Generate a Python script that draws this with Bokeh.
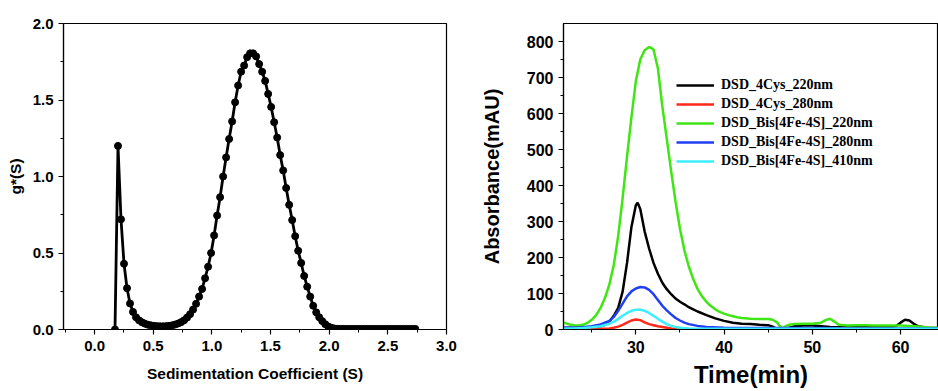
import math
from bokeh.plotting import figure
from bokeh.layouts import row
from bokeh.models import FixedTicker, Legend, LegendItem, Title, Range1d, PrintfTickFormatter
from bokeh.embed import file_html
from bokeh.resources import INLINE

# ---------------- Left panel data: g*(s) distribution ----------------
s_start = 0.174
s_step = 0.0256
g_values = [0.0, 1.20, 0.72, 0.43, 0.27, 0.17, 0.115, 0.08, 0.06, 0.047,
            0.038, 0.031, 0.027, 0.024, 0.022, 0.021, 0.021, 0.022, 0.024, 0.027,
            0.032, 0.039, 0.048, 0.06, 0.078, 0.10, 0.13, 0.168, 0.215, 0.265,
            0.335, 0.41, 0.50, 0.615, 0.745, 0.865, 1.0, 1.125, 1.245, 1.36,
            1.485, 1.595, 1.685, 1.725, 1.78, 1.805, 1.805, 1.785, 1.735, 1.685,
            1.625, 1.54, 1.455, 1.355, 1.255, 1.14, 1.04, 0.925, 0.815, 0.715,
            0.61, 0.515, 0.435, 0.35, 0.28, 0.215, 0.155, 0.112, 0.08, 0.055,
            0.035, 0.02, 0.012, 0.007, 0.005, 0.004, 0.004, 0.004, 0.004, 0.004,
            0.004, 0.004, 0.004, 0.004, 0.004, 0.004, 0.004, 0.004, 0.004, 0.004,
            0.004, 0.004, 0.004, 0.004, 0.004, 0.004, 0.004, 0.004, 0.004, 0.004,
            0.004]
s_values = [round(s_start + i * s_step, 4) for i in range(len(g_values))]
left_xticks = [0.0, 0.5, 1.0, 1.5, 2.0, 2.5, 3.0]
left_xminor = [-0.25, 0.25, 0.75, 1.25, 1.75, 2.25, 2.75]
left_yticks = [0.0, 0.5, 1.0, 1.5, 2.0]
left_yminor = [0.25, 0.75, 1.25, 1.75]

# ---------------- Right panel data: chromatograms ----------------
t_black = [21.8, 23, 24, 25, 26, 26.5, 27, 27.5, 28, 28.5, 29, 29.5, 30, 30.2, 30.5, 31, 31.5, 32, 32.5, 33,
           33.5, 34, 34.5, 35, 35.5, 36, 36.5, 37, 38, 39, 40, 41, 42, 43, 44, 45, 45.5, 46, 46.5, 47,
           47.5, 48, 49, 50, 51, 52, 54, 56, 58, 59, 59.5, 60, 60.5, 61, 61.5, 62, 63, 64.3]
v_black = [5, 5, 5, 6, 9, 13, 22, 38, 60, 105, 185, 285, 345, 352, 335, 272, 225, 185, 155, 130,
           112, 98, 86, 77, 70, 62, 56, 50, 40, 31, 24, 19, 16, 15, 13, 12, 8, 2, 1, 3,
           6, 9, 11, 11, 9, 7, 6, 6, 6, 7, 10, 19, 27, 25, 16, 9, 5, 4]

t_red = [21.8, 24, 26, 27, 27.5, 28, 28.5, 29, 29.5, 30, 30.5, 31, 31.5, 32, 32.5, 33, 33.5, 34, 35, 36,
         40, 50, 64.3]
v_red = [1, 1, 2, 3, 5, 8, 13, 19, 25, 28, 26, 20, 15, 12, 9, 7, 5, 3, 2, 1,
         1, 0, 0]

t_green = [21.8, 22.5, 23, 23.5, 24, 24.5, 25, 25.5, 26, 26.5, 27, 27.5, 28, 28.5, 29, 29.5, 30, 30.5, 31, 31.5,
           32, 32.5, 33, 33.5, 34, 34.5, 35, 35.5, 36, 36.5, 37, 37.5, 38, 38.5, 39, 39.5, 40, 40.5, 41, 41.5,
           42, 43, 44, 45, 45.5, 46, 46.3, 46.6, 47, 47.5, 48, 49, 50, 51, 51.5, 52, 52.5, 53, 54, 55,
           56, 57, 58, 59, 60, 61, 62, 63, 64.3]
v_green = [19, 14, 12, 11, 13, 18, 27, 40, 60, 88, 125, 180, 260, 365, 480, 590, 690, 750, 776, 785,
           778, 725, 620, 530, 440, 355, 280, 220, 175, 140, 112, 92, 77, 65, 56, 49, 44, 40, 37, 34,
           32, 30, 29, 29, 27, 20, 10, 3, 10, 14, 15, 16, 16, 19, 26, 30, 22, 13, 11, 12,
           12, 11, 11, 11, 11, 10, 8, 6, 4]

t_blue = [21.8, 23, 24, 25, 26, 27, 27.5, 28, 28.5, 29, 29.5, 30, 30.5, 31, 31.5, 32, 32.5, 33, 33.5, 34,
          34.5, 35, 35.5, 36, 37, 38, 40, 45, 50, 55, 60, 64.3]
v_blue = [5, 5, 6, 9, 14, 24, 35, 52, 72, 92, 106, 114, 118, 117, 110, 98, 82, 66, 53, 42,
          32, 25, 19, 15, 10, 7, 5, 4, 4, 3, 3, 3]

t_cyan = [21.8, 23, 24, 25, 26, 27, 27.5, 28, 28.5, 29, 29.5, 30, 30.5, 31, 31.5, 32, 32.5, 33, 33.5, 34,
          34.5, 35, 36, 38, 45, 55, 64.3]
v_cyan = [3, 3, 4, 6, 9, 16, 22, 29, 38, 46, 52, 55, 55, 52, 46, 38, 30, 22, 15, 10,
          7, 5, 3, 2, 2, 2, 2]

series_names = ["DSD_4Cys_220nm", "DSD_4Cys_280nm", "DSD_Bis[4Fe-4S]_220nm",
                "DSD_Bis[4Fe-4S]_280nm", "DSD_Bis[4Fe-4S]_410nm"]
series_colors = ["#000000", "#ff2a1a", "#3fe614", "#1f3ff2", "#3aeefc"]
right_xticks = [30, 40, 50, 60]
right_xminor = [25, 35, 45, 55]
right_yticks = [0, 100, 200, 300, 400, 500, 600, 700, 800]
right_yminor = [50, 150, 250, 350, 450, 550, 650, 750]

SANS = "Liberation Sans"


def style(p, tick_size):
    p.xgrid.visible = False
    p.ygrid.visible = False
    p.outline_line_color = "black"
    p.outline_line_width = 1.2
    p.background_fill_color = "white"
    p.border_fill_color = "white"
    for ax in (p.xaxis[0], p.yaxis[0]):
        ax.axis_line_color = "black"
        ax.axis_line_width = 1.2
        ax.major_tick_line_color = "black"
        ax.minor_tick_line_color = "black"
        ax.major_tick_line_width = 1.2
        ax.minor_tick_line_width = 1.0
        ax.major_tick_in = 0
        ax.major_tick_out = 5
        ax.minor_tick_in = 0
        ax.minor_tick_out = 3
        ax.major_label_text_font = SANS
        ax.major_label_text_font_style = "bold"
        ax.major_label_text_font_size = tick_size
        ax.major_label_text_color = "black"
        ax.axis_label_text_font = SANS
        ax.axis_label_text_font_style = "bold"
        ax.axis_label_text_color = "black"


# ---------------- Left figure ----------------
p1 = figure(width=457, height=391, x_range=Range1d(-0.265, 3.0), y_range=Range1d(0, 2.0),
            output_backend="svg", toolbar_location=None)
p1.min_border_left = 63
p1.min_border_right = 11
p1.min_border_top = 21
p1.min_border_bottom = 62
style(p1, "15px")
p1.xaxis.ticker = FixedTicker(ticks=left_xticks, minor_ticks=left_xminor)
p1.yaxis.ticker = FixedTicker(ticks=left_yticks, minor_ticks=left_yminor)
p1.xaxis.formatter = PrintfTickFormatter(format="%.1f")
p1.yaxis.formatter = PrintfTickFormatter(format="%.1f")
p1.xaxis.axis_label = "Sedimentation Coefficient (S)"
p1.yaxis.axis_label = "g*(S)"
p1.xaxis.axis_label_text_font_size = "15.5px"
p1.yaxis.axis_label_text_font_size = "15.5px"
p1.xaxis.major_label_standoff = 6
p1.yaxis.major_label_standoff = 5
p1.xaxis.axis_label_standoff = 11
p1.yaxis.axis_label_standoff = 6
p1.line(s_values, g_values, line_color="black", line_width=2.8)
p1.scatter(s_values, g_values, size=7, fill_color="black", line_color="black")

# ---------------- Right figure ----------------
p2 = figure(width=481, height=391, x_range=Range1d(21.8, 64.3), y_range=Range1d(0, 850),
            output_backend="svg", toolbar_location=None)
p2.min_border_left = 106
p2.min_border_right = 0
p2.min_border_top = 23
p2.min_border_bottom = 62
style(p2, "16px")
p2.xaxis.ticker = FixedTicker(ticks=right_xticks, minor_ticks=right_xminor)
p2.yaxis.ticker = FixedTicker(ticks=right_yticks, minor_ticks=right_yminor)
p2.xaxis.axis_label = "Time(min)"
p2.xaxis.axis_label_text_font_size = "24px"
p2.xaxis.major_label_standoff = 6
p2.xaxis.axis_label_standoff = 5
p2.yaxis.major_label_standoff = 5

ts = [t_black, t_red, t_green, t_blue, t_cyan]
vs = [v_black, v_red, v_green, v_blue, v_cyan]
items = []
for name, col, t, v in zip(series_names, series_colors, ts, vs):
    r = p2.line(t, v, line_color=col, line_width=2.5)
    items.append(LegendItem(label=name, renderers=[r]))

legend = Legend(items=items, location=(113, 160))
legend.border_line_alpha = 0
legend.background_fill_alpha = 0
legend.padding = 0
legend.margin = 0
legend.glyph_width = 38
legend.glyph_height = 14
legend.label_height = 14
legend.spacing = 3
legend.label_standoff = 7
legend.label_text_font = "Liberation Serif"
legend.label_text_font_style = "bold"
legend.label_text_font_size = "14px"
legend.label_text_color = "black"
p2.add_layout(legend, "center")

ytitle = Title(text="Absorbance(mAU)", align="center", offset=53, standoff=41,
               text_font=SANS, text_font_style="bold", text_font_size="20px",
               text_color="black")
p2.add_layout(ytitle, "left")

layout = row(p1, p2)
open("out.html", "w").write(file_html(layout, INLINE))
